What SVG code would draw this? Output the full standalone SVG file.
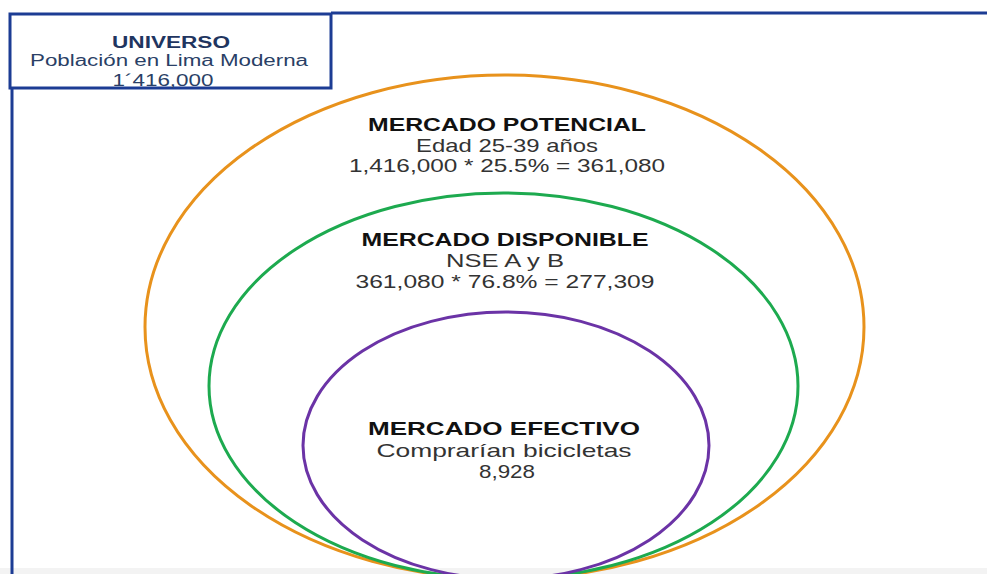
<svg xmlns="http://www.w3.org/2000/svg" width="987" height="574" viewBox="0 0 987 574">
<style>
.ring{fill:none;stroke-width:3}
.h{font-family:"Liberation Sans",Arial,sans-serif;font-weight:bold;font-size:19px;fill:#111;text-anchor:middle}
.t{font-family:"Liberation Sans",Arial,sans-serif;font-size:19px;fill:#333;text-anchor:middle}
.uh{font-family:"Liberation Sans",Arial,sans-serif;font-weight:bold;font-size:16px;fill:#1f3560;text-anchor:middle}
.ut{font-family:"Liberation Sans",Arial,sans-serif;font-size:16px;fill:#2a3f66;text-anchor:middle}
.frame{stroke:#1c3c94;stroke-width:3;fill:none}
</style>
<rect width="987" height="574" fill="#ffffff"/>
<rect x="0" y="568" width="987" height="6" fill="#f3f3f3"/>
<g id="frame">
<line class="frame" x1="331" y1="13" x2="987" y2="13"/>
<line class="frame" x1="12" y1="88" x2="12" y2="574"/>
</g>
<g id="potencial">
<ellipse class="ring" cx="504.5" cy="327" rx="359.5" ry="252" stroke="#e8921c"/>
<text class="h" x="507" y="131" textLength="278" lengthAdjust="spacingAndGlyphs">MERCADO POTENCIAL</text>
<text class="t" x="507" y="152" textLength="182" lengthAdjust="spacingAndGlyphs">Edad 25-39 años</text>
<text class="t" x="507" y="172" textLength="316" lengthAdjust="spacingAndGlyphs">1,416,000 * 25.5% = 361,080</text>
</g>
<g id="disponible">
<ellipse class="ring" cx="503.5" cy="386" rx="294.5" ry="193" stroke="#1daa4f"/>
<text class="h" x="505" y="246" textLength="287" lengthAdjust="spacingAndGlyphs">MERCADO DISPONIBLE</text>
<text class="t" x="505" y="267" textLength="118" lengthAdjust="spacingAndGlyphs">NSE A y B</text>
<text class="t" x="505" y="288" textLength="299" lengthAdjust="spacingAndGlyphs">361,080 * 76.8% = 277,309</text>
</g>
<g id="efectivo">
<ellipse class="ring" cx="506" cy="445.5" rx="203" ry="133.5" stroke="#6b33a6"/>
<text class="h" x="504" y="435" textLength="272" lengthAdjust="spacingAndGlyphs">MERCADO EFECTIVO</text>
<text class="t" x="504" y="457" textLength="255" lengthAdjust="spacingAndGlyphs">Comprarían bicicletas</text>
<text class="t" x="507" y="478" textLength="56" lengthAdjust="spacingAndGlyphs">8,928</text>
</g>
<g id="universo">
<rect x="10" y="14" width="321" height="74" fill="#ffffff" stroke="#1c3c94" stroke-width="3"/>
<text class="uh" x="171" y="48" textLength="118" lengthAdjust="spacingAndGlyphs">UNIVERSO</text>
<text class="ut" x="169" y="66" textLength="278" lengthAdjust="spacingAndGlyphs">Población en Lima Moderna</text>
<text class="ut" x="163" y="86" textLength="101" lengthAdjust="spacingAndGlyphs">1´416,000</text>
</g>
<g id="connectors"></g>
</svg>
